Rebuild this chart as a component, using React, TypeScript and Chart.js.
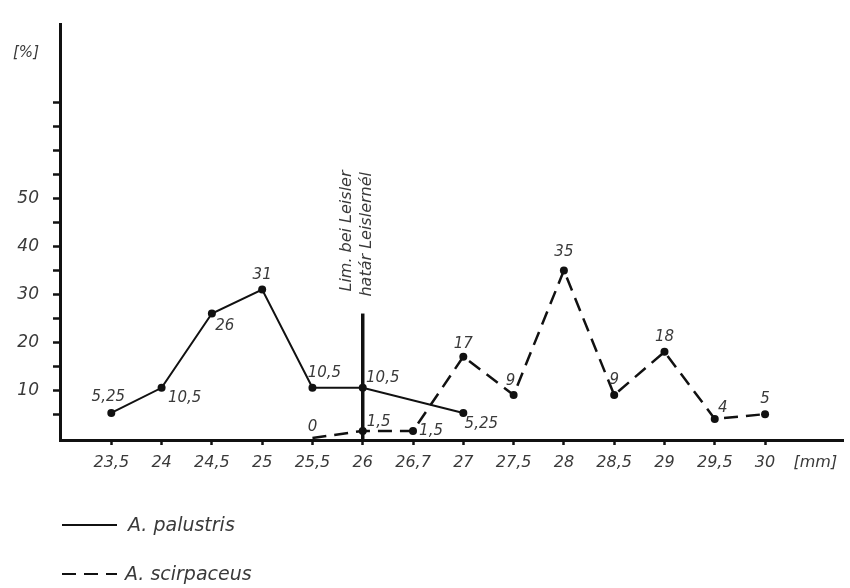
import React, { useEffect, useRef } from 'react';
import { Chart, registerables } from 'chart.js';

Chart.register(...registerables);

// ---- data ----
const CATEGORIES = ['23,5', '24', '24,5', '25', '25,5', '26', '26,7', '27', '27,5', '28', '28,5', '29', '29,5', '30'];
const UNIT_LABEL = '[mm]';
const Y_UNIT_LABEL = '[%]';
const PALUSTRIS = [5.25, 10.5, 26, 31, 10.5, 10.5, null, 5.25, null, null, null, null, null, null];
const SCIRPACEUS = [null, null, null, null, 0, 1.5, 1.5, 17, 9, 35, 9, 18, 4, 5];
const Y_TICKS = [5, 10, 15, 20, 25, 30, 35, 40, 45, 50, 55, 60, 65, 70];
const Y_LABELED = [10, 20, 30, 40, 50];
const LIMIT_CATEGORY = '26';
const LIMIT_TOP = 26;
const LIMIT_TEXT = ['Lim. bei Leisler', 'határ Leislernél'];
const SERIES_NAMES = ['A. palustris', 'A. scirpaceus'];

// ---- label placement (style only) ----
const PAL_LABEL_OFFSETS = [[-3, -16], [23, 10], [13, 13], [0, -14], [12, -15], [20, -10], [18, 11]];
const SCI_LABEL_OFFSETS = [[0, -11], [16, -9], [18, 0], [0, -13], [-3, -14], [0, -18], [0, -15], [0, -15], [8, -11], [0, -15]];

const FONT_FAMILY = '"DejaVu Sans", sans-serif';
const TEXT_COLOR = '#3a3a3a';
const INK = '#111';

const toPoints = (arr: (number | null)[]) =>
  arr.map((v, i) => (v === null ? null : { x: i, y: v })).filter((p) => p !== null) as { x: number; y: number }[];

const fmt = (v: number) => String(v).replace('.', ',');

const annotationsPlugin = {
  id: 'annotations',
  afterDatasetsDraw(chart: any) {
    const { ctx, scales, chartArea } = chart;
    const xs = scales.x;
    const ys = scales.y;
    ctx.save();

    // value labels
    const offsetsList = [PAL_LABEL_OFFSETS, SCI_LABEL_OFFSETS];
    chart.data.datasets.forEach((ds: any, di: number) => {
      const offs = offsetsList[di];
      ds.data.forEach((p: any, pi: number) => {
        const px = xs.getPixelForValue(p.x);
        const py = ys.getPixelForValue(p.y);
        const [dx, dy] = offs[pi] || [0, -14];
        ctx.font = `italic 15px ${FONT_FAMILY}`;
        ctx.fillStyle = TEXT_COLOR;
        ctx.textAlign = 'center';
        ctx.textBaseline = 'middle';
        ctx.fillText(fmt(p.y), px + dx, py + dy);
      });
    });

    // limit line
    const li = CATEGORIES.indexOf(LIMIT_CATEGORY);
    const lx = xs.getPixelForValue(li);
    const ltop = ys.getPixelForValue(LIMIT_TOP);
    ctx.strokeStyle = INK;
    ctx.lineWidth = 3.5;
    ctx.beginPath();
    ctx.moveTo(lx, ltop);
    ctx.lineTo(lx, chartArea.bottom);
    ctx.stroke();

    // rotated limit text
    ctx.save();
    ctx.translate(lx, ltop - 20);
    ctx.rotate(-Math.PI / 2);
    ctx.font = `italic 16px ${FONT_FAMILY}`;
    ctx.fillStyle = TEXT_COLOR;
    ctx.textAlign = 'left';
    ctx.textBaseline = 'alphabetic';
    ctx.fillText(LIMIT_TEXT[0], 2, -12);
    ctx.fillText(LIMIT_TEXT[1], -3, 8);
    ctx.restore();

    // y unit label
    ctx.font = `italic 15px ${FONT_FAMILY}`;
    ctx.fillStyle = TEXT_COLOR;
    ctx.textAlign = 'center';
    ctx.textBaseline = 'middle';
    ctx.fillText(Y_UNIT_LABEL, 26, 53);

    // legend
    const legendRows = [525, 574];
    chart.data.datasets.forEach((ds: any, di: number) => {
      const y = legendRows[di];
      ctx.strokeStyle = INK;
      ctx.lineWidth = 2;
      ctx.setLineDash(ds.borderDash || []);
      ctx.beginPath();
      ctx.moveTo(62, y);
      ctx.lineTo(117, y);
      ctx.stroke();
      ctx.setLineDash([]);
      ctx.font = `italic 19px ${FONT_FAMILY}`;
      ctx.fillStyle = TEXT_COLOR;
      ctx.textAlign = 'left';
      ctx.textBaseline = 'middle';
      ctx.fillText(SERIES_NAMES[di], di === 0 ? 128 : 125, y + 1);
    });

    ctx.restore();
  },
};

export default function App() {
  const canvasRef = useRef<HTMLCanvasElement | null>(null);

  useEffect(() => {
    if (!canvasRef.current) return;
    const xLabels = [...CATEGORIES, UNIT_LABEL];
    const palPts = toPoints(PALUSTRIS);
    const sciPts = toPoints(SCIRPACEUS);
    const chart = new Chart(canvasRef.current, {
      type: 'line',
      data: {
        datasets: [
          {
            label: SERIES_NAMES[0],
            data: palPts,
            borderColor: INK,
            borderWidth: 2,
            pointRadius: 4,
            pointBackgroundColor: INK,
            pointBorderWidth: 0,
            tension: 0,
            clip: false as any,
          },
          {
            label: SERIES_NAMES[1],
            data: sciPts,
            borderColor: INK,
            borderWidth: 2.5,
            borderDash: [14, 8],
            pointRadius: sciPts.map((p) => (p.y === 0 ? 0 : 4)),
            pointBackgroundColor: INK,
            pointBorderWidth: 0,
            tension: 0,
            clip: false as any,
          },
        ],
      },
      options: {
        animation: false,
        responsive: false,
        layout: { padding: { top: 12, right: 7, left: 0, bottom: 0 } },
        plugins: { legend: { display: false }, tooltip: { enabled: false } },
        scales: {
          x: {
            type: 'linear',
            min: -1.02,
            max: 14.55,
            afterBuildTicks: (s: any) => {
              s.ticks = xLabels.map((_, i) => ({ value: i }));
            },
            afterFit: (s: any) => {
              s.height = 148;
            },
            ticks: {
              autoSkip: false,
              maxRotation: 0,
              minRotation: 0,
              padding: 8,
              color: TEXT_COLOR,
              font: { family: FONT_FAMILY, size: 16, style: 'italic' },
              callback: (v: any) => xLabels[v] ?? '',
            },
            grid: {
              drawOnChartArea: false,
              drawTicks: true,
              tickLength: 5,
              tickWidth: 2.5,
              tickColor: (c: any) => (c.index === CATEGORIES.length ? 'rgba(0,0,0,0)' : INK),
            },
            border: { display: true, width: 3, color: INK },
          },
          y: {
            type: 'linear',
            min: -0.4,
            max: 86.4,
            afterBuildTicks: (s: any) => {
              s.ticks = Y_TICKS.map((v) => ({ value: v }));
            },
            afterFit: (s: any) => {
              s.width = 60;
            },
            ticks: {
              padding: 14,
              color: TEXT_COLOR,
              font: { family: FONT_FAMILY, size: 17, style: 'italic' },
              callback: (v: any) => (Y_LABELED.includes(v) ? String(v) : ''),
            },
            grid: {
              drawOnChartArea: false,
              drawTicks: true,
              tickLength: 7,
              tickWidth: 2.5,
              tickColor: INK,
            },
            border: { display: true, width: 3, color: INK },
          },
        },
      },
      plugins: [annotationsPlugin],
    });
    return () => chart.destroy();
  }, []);

  return (
    <div style={{ position: 'fixed', left: 0, top: 0, width: 850, height: 588, background: '#fff' }}>
      <canvas ref={canvasRef} width={850} height={588} style={{ display: 'block' }} />
    </div>
  );
}
